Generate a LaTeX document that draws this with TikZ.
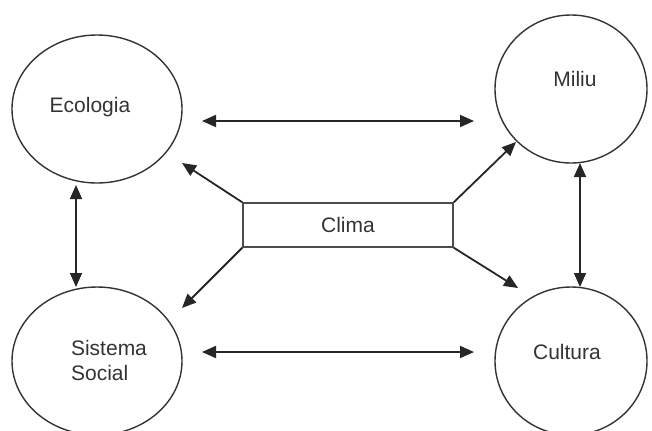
\documentclass[tikz,border=0pt]{standalone}
\usepackage{fontspec}
\setmainfont{Liberation Sans}
\usetikzlibrary{arrows.meta,shapes.geometric}

\begin{document}
\begin{tikzpicture}[x=0.5pt,y=-0.5pt,
  circ/.style={draw=black!80,line width=0.7pt,ellipse,inner sep=0pt},
  lbl/.style={font=\fontsize{10.5}{12.5}\selectfont,text=black!80,inner sep=0pt},
  arr/.style={line width=0.9pt,draw=black!85,-{Triangle[length=7pt,width=6pt]}},
  darr/.style={line width=0.9pt,draw=black!85,{Triangle[length=7pt,width=6pt]}-{Triangle[length=7pt,width=6pt]}}]
\useasboundingbox (0,0) rectangle (652,430);

\node[circ,minimum width=85pt,minimum height=74pt] (eco) at (97,109) {};
\node[circ,minimum width=76pt,minimum height=74pt] (mil) at (571,89) {};
\node[circ,minimum width=85pt,minimum height=74pt] (soc) at (97,361) {};
\node[circ,minimum width=76pt,minimum height=74pt] (cul) at (571,361) {};

\node[lbl] (ecolbl) at (90,107) {Ecologia};
\node[lbl] (millbl) at (575,79) {Miliu};
\node[lbl,align=left] (soclbl) at (109,360) {Sistema\\Social};
\node[lbl] (cullbl) at (567,352) {Cultura};

\node[draw=black!70,line width=0.7pt,minimum width=105pt,minimum height=22pt,lbl,inner sep=0pt] (clima) at (348,225) {Clima};

\coordinate (ecoR) at (202,121);
\coordinate (milL) at (474,121);
\coordinate (socR) at (202,352);
\coordinate (culL) at (474,352);
\coordinate (ecoB) at (76,185);
\coordinate (socT) at (76,287);
\coordinate (milB) at (580,163);
\coordinate (culT) at (580,287);
\coordinate (ecoD) at (182,163);
\coordinate (milD) at (516,142);
\coordinate (socD) at (182,308);
\coordinate (culD) at (518,288);

\draw[darr] (ecoR) -- (milL);
\draw[darr] (socR) -- (culL);
\draw[darr] (ecoB) -- (socT);
\draw[darr] (milB) -- (culT);

\draw[arr] (clima.north west) -- (ecoD);
\draw[arr] (clima.north east) -- (milD);
\draw[arr] (clima.south west) -- (socD);
\draw[arr] (clima.south east) -- (culD);
\end{tikzpicture}
\end{document}
